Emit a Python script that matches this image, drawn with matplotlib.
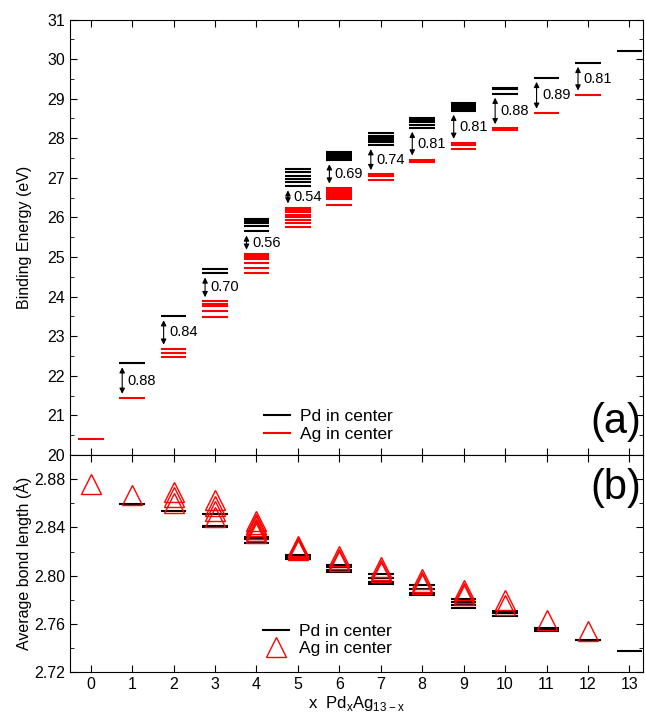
import matplotlib
matplotlib.use("Agg")
import matplotlib.pyplot as plt
from matplotlib.ticker import MultipleLocator

plt.rcParams['font.family'] = ['Liberation Sans', 'DejaVu Sans']
plt.rcParams['mathtext.fontset'] = 'custom'
plt.rcParams['mathtext.rm'] = 'Liberation Sans'

# x = number of Pd atoms in PdxAg13-x
n_pd = list(range(14))

# (a) binding energies (eV), one list per x
pd_energy = [[], [22.32], [23.51], [24.70, 24.59],
             [25.96, 25.90, 25.85, 25.78, 25.65],
             [27.22, 27.14, 27.05, 26.97, 26.89, 26.79],
             [27.65, 27.60, 27.55, 27.50, 27.45],
             [28.13, 28.05, 28.00, 27.95, 27.90, 27.83],
             [28.50, 28.45, 28.40, 28.33, 28.27],
             [28.90, 28.85, 28.80, 28.75, 28.70],
             [29.27, 29.24, 29.13], [29.53], [29.91], [30.21]]
ag_energy = [[20.40], [21.44], [22.68, 22.58, 22.48],
             [23.88, 23.82, 23.76, 23.63, 23.49],
             [25.08, 25.04, 25.00, 24.95, 24.84, 24.73, 24.59],
             [26.25, 26.19, 26.13, 26.06, 26.00, 25.94, 25.86, 25.76],
             [26.75, 26.71, 26.67, 26.63, 26.59, 26.55, 26.50, 26.46, 26.31],
             [27.09, 27.05, 26.95], [27.46, 27.41],
             [27.88, 27.83, 27.73], [28.25, 28.22], [28.64], [29.10], []]
gap_labels = ["", "0.88", "0.84", "0.70", "0.56", "0.54", "0.69",
              "0.74", "0.81", "0.81", "0.88", "0.89", "0.81", ""]

# (b) average bond length (A)
pd_bond = [[], [2.859], [2.854], [2.851, 2.841, 2.840],
           [2.832, 2.830, 2.827], [2.817, 2.816, 2.815, 2.814],
           [2.809, 2.807, 2.805, 2.803], [2.801, 2.798, 2.795, 2.793],
           [2.792, 2.789, 2.786, 2.784], [2.781, 2.778, 2.776, 2.773],
           [2.771, 2.769, 2.767], [2.757, 2.755, 2.754], [2.747], [2.738]]
ag_bond = [[2.876], [2.867], [2.869, 2.865, 2.860],
           [2.863, 2.858, 2.854, 2.849],
           [2.845, 2.843, 2.841, 2.839, 2.837, 2.835],
           [2.825, 2.824, 2.823, 2.822, 2.821],
           [2.816, 2.814, 2.812], [2.807, 2.805, 2.803],
           [2.797, 2.795, 2.793], [2.788, 2.786, 2.784],
           [2.780, 2.776], [2.763], [2.754], []]

half = 0.31

fig = plt.figure(figsize=(6.45, 7.12), dpi=100)
ax1 = fig.add_axes([0.1085, 0.361, 0.8885, 0.6116])
ax2 = fig.add_axes([0.1085, 0.0558, 0.8885, 0.3052], sharex=ax1)

# ---- (a) energy levels
for x in n_pd:
    for e in pd_energy[x]:
        ax1.hlines(e, x - half, x + half, colors='black', lw=1.5)
    for e in ag_energy[x]:
        ax1.hlines(e, x - half, x + half, colors='red', lw=1.5)
    if gap_labels[x]:
        lo = min(pd_energy[x])
        hi = max(ag_energy[x])
        ax1.annotate('', xy=(x - 0.24, hi), xytext=(x - 0.24, lo),
                     arrowprops=dict(arrowstyle='<|-|>', color='black', lw=0.8,
                                     mutation_scale=8, shrinkA=3, shrinkB=3))
        ax1.text(x - 0.11, (lo + hi) / 2, gap_labels[x], fontsize=10.5,
                 ha='left', va='center')

ax1.plot([], [], color='black', lw=1.5, label='Pd in center')
ax1.plot([], [], color='red', lw=1.5, label='Ag in center')
ax1.legend(loc='center left', bbox_to_anchor=(0.338, 0.068), frameon=False,
           fontsize=12.5, handlelength=1.5, handletextpad=0.6,
           borderpad=0, borderaxespad=0, labelspacing=0.15)
ax1.text(0.997, 0.05, '(a)', transform=ax1.transAxes, fontsize=30,
         ha='right', va='baseline')

ax1.set_ylim(20, 31)
ax1.yaxis.set_major_locator(MultipleLocator(1))
ax1.yaxis.set_minor_locator(MultipleLocator(0.5))
ax1.set_ylabel('Binding Energy (eV)', fontsize=11.5)
ax1.tick_params(labelbottom=False)

# ---- (b) bond lengths
for x in n_pd:
    for b in pd_bond[x]:
        ax2.hlines(b, x - half, x + half, colors='black', lw=1.5)
    if ag_bond[x]:
        ax2.plot([x] * len(ag_bond[x]), ag_bond[x], linestyle='none', marker='^',
                 markersize=14, markerfacecolor='none', markeredgecolor='red',
                 markeredgewidth=1)

ax2.plot([], [], color='black', lw=1.5, label='Pd in center')
ax2.plot([], [], linestyle='none', marker='^', markersize=14,
         markerfacecolor='none', markeredgecolor='red', markeredgewidth=1,
         label='Ag in center')
ax2.legend(loc='center left', bbox_to_anchor=(0.336, 0.149), frameon=False,
           fontsize=12.5, handlelength=1.5, handletextpad=0.6,
           borderpad=0, borderaxespad=0, labelspacing=0.15)
ax2.text(0.997, 0.797, '(b)', transform=ax2.transAxes, fontsize=30,
         ha='right', va='baseline')

ax2.set_ylim(2.72, 2.90)
ax2.yaxis.set_major_locator(MultipleLocator(0.04))
ax2.yaxis.set_minor_locator(MultipleLocator(0.02))
ax2.set_ylabel('Average bond length (\u00c5)', fontsize=11.5)
ax2.set_xlim(-0.5, 13.33)
ax2.set_xticks(n_pd)
ax2.set_xlabel('x  Pd$_\\mathregular{x}$Ag$_\\mathregular{13-x}$', fontsize=12,
               labelpad=1.5)

for ax in (ax1, ax2):
    ax.tick_params(which='both', direction='in', top=True, right=True,
                   labelsize=11.5)
    ax.tick_params(which='major', length=5)
    ax.tick_params(which='minor', length=3)
    ax.yaxis.set_label_coords(-0.066, 0.5)

fig.savefig('out.png', dpi=100)
